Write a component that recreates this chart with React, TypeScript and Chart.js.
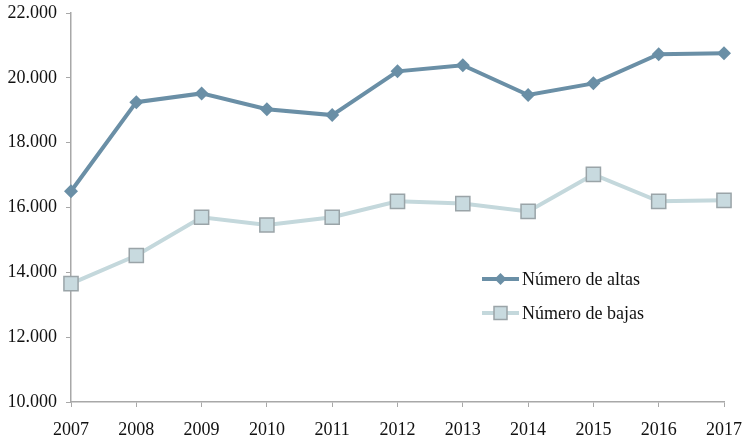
import React, { useEffect, useRef } from "react";
import { Chart, registerables } from "chart.js";

Chart.register(...registerables);

const years = ["2007", "2008", "2009", "2010", "2011", "2012", "2013", "2014", "2015", "2016", "2017"];
const altas = [16500, 19250, 19520, 19030, 18850, 20200, 20390, 19470, 19830, 20730, 20760];
const bajas = [13650, 14520, 15700, 15460, 15700, 16190, 16120, 15880, 17020, 16190, 16220];
const seriesNames = ["Número de altas", "Número de bajas"];

const FONT = "'Liberation Serif', 'Times New Roman', serif";

const fmt = (v: number) => {
  const s = Math.round(v).toString();
  return s.replace(/\B(?=(\d{3})+(?!\d))/g, ".");
};

const legendPlugin = {
  id: "customLegend",
  afterDraw(chart: any) {
    const ctx = chart.ctx;
    const items = chart.data.datasets;
    const x0 = 482;
    const x1 = 519;
    const ys = [279, 313];
    ctx.save();
    items.forEach((ds: any, i: number) => {
      const y = ys[i];
      ctx.strokeStyle = ds.borderColor;
      ctx.lineWidth = ds.borderWidth;
      ctx.beginPath();
      ctx.moveTo(x0, y);
      ctx.lineTo(x1, y);
      ctx.stroke();
      const mx = (x0 + x1) / 2;
      ctx.fillStyle = ds.pointBackgroundColor;
      ctx.strokeStyle = ds.pointBorderColor;
      ctx.lineWidth = ds.pointBorderWidth;
      if (ds.pointStyle === "rectRot") {
        const r = 6;
        ctx.beginPath();
        ctx.moveTo(mx, y - r);
        ctx.lineTo(mx + r, y);
        ctx.lineTo(mx, y + r);
        ctx.lineTo(mx - r, y);
        ctx.closePath();
        ctx.fill();
      } else {
        const s = 6.5;
        ctx.beginPath();
        ctx.rect(mx - s, y - s, 2 * s, 2 * s);
        ctx.fill();
        ctx.stroke();
      }
      ctx.fillStyle = "#111";
      ctx.font = `18px ${FONT}`;
      ctx.textBaseline = "middle";
      ctx.textAlign = "left";
      ctx.fillText(ds.label, 522, y + 1);
    });
    ctx.restore();
  },
};

export default function App() {
  const ref = useRef<HTMLCanvasElement | null>(null);
  useEffect(() => {
    if (!ref.current) return;
    const chart = new Chart(ref.current, {
      type: "line",
      data: {
        labels: years,
        datasets: [
          {
            label: seriesNames[0],
            data: altas,
            borderColor: "#6a8fa6",
            backgroundColor: "#6a8fa6",
            borderWidth: 4,
            pointStyle: "rectRot",
            pointRadius: 7,
            pointBackgroundColor: "#6a8fa6",
            pointBorderColor: "#6a8fa6",
            pointBorderWidth: 0,
            tension: 0,
          } as any,
          {
            label: seriesNames[1],
            data: bajas,
            borderColor: "#c4d8dc",
            backgroundColor: "#c4d8dc",
            borderWidth: 4,
            pointStyle: "rect",
            pointRadius: 10,
            pointBackgroundColor: "#c8dadf",
            pointBorderColor: "#9aa4a8",
            pointBorderWidth: 1.5,
            tension: 0,
          } as any,
        ],
      },
      options: {
        animation: false,
        responsive: false,
        maintainAspectRatio: false,
        layout: { padding: { left: 0, right: 18, top: 13, bottom: 0 } },
        plugins: { legend: { display: false }, tooltip: { enabled: false } },
        scales: {
          x: {
            offset: false,
            grid: { display: true, drawOnChartArea: false, drawTicks: true, tickLength: 5, color: "#a8a8a8" },
            border: { color: "#a8a8a8", width: 1.5 },
            ticks: { color: "#111", font: { family: FONT, size: 18 }, padding: 12, maxRotation: 0 },
            afterFit: (s: any) => {
              s.height = 40;
              s.paddingLeft = 0;
              s.paddingRight = 0;
            },
          },
          y: {
            min: 10000,
            max: 22000,
            ticks: {
              stepSize: 2000,
              color: "#111",
              font: { family: FONT, size: 18 },
              padding: 9,
              callback: (v: any) => fmt(Number(v)),
            },
            grid: { display: true, drawOnChartArea: false, drawTicks: true, tickLength: 5, color: "#a8a8a8" },
            border: { color: "#a8a8a8", width: 1.5 },
            afterFit: (s: any) => {
              s.width = 71;
              s.paddingTop = 0;
              s.paddingBottom = 0;
            },
          },
        },
      },
      plugins: [legendPlugin],
    });
    return () => chart.destroy();
  }, []);
  return (
    <div style={{ position: "fixed", left: 0, top: 0, width: 742, height: 442, background: "#fff" }}>
      <canvas ref={ref} width={742} height={442} style={{ display: "block" }} />
    </div>
  );
}
